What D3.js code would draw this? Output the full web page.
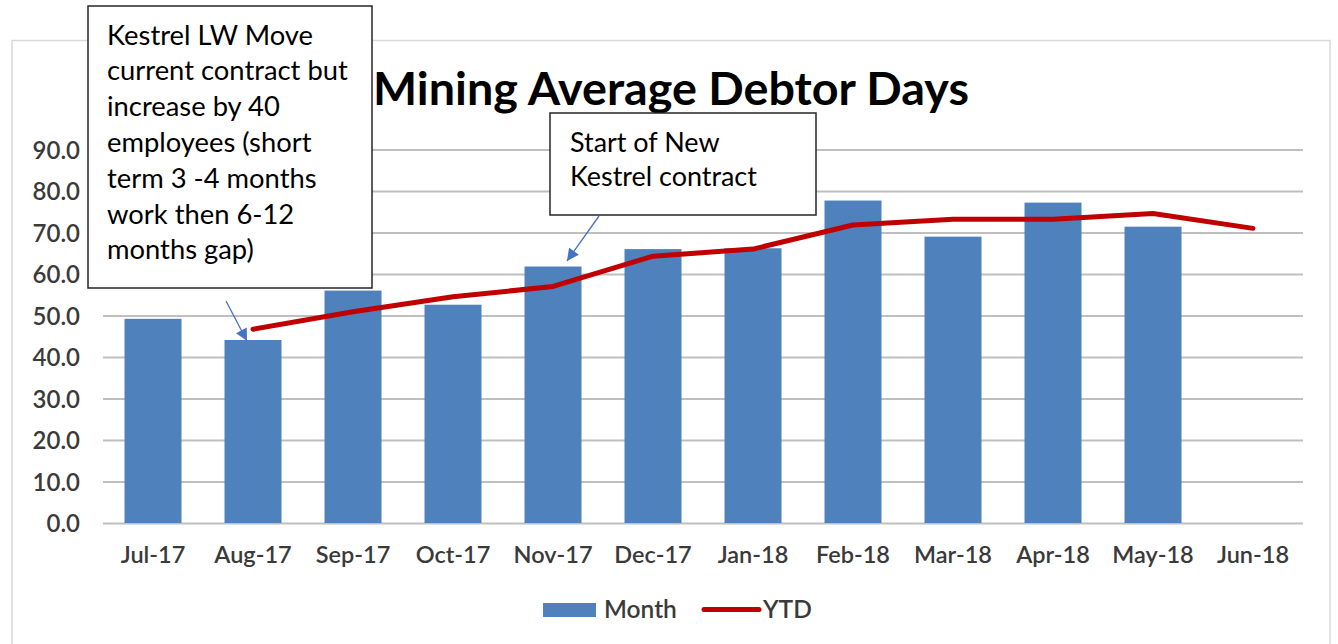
<!DOCTYPE html>
<html><head><meta charset="utf-8">
<script src="https://cdn.jsdelivr.net/npm/d3@7"></script>
<style>body{margin:0;background:#fff;overflow:hidden}</style>
</head><body>
<svg id="c" width="1338" height="644"></svg>
<script>
const categories = ["Jul-17","Aug-17","Sep-17","Oct-17","Nov-17","Dec-17","Jan-18","Feb-18","Mar-18","Apr-18","May-18","Jun-18"];
const monthValues = [49.2, 44.1, 56.0, 52.6, 61.8, 66.0, 66.2, 77.7, 69.0, 77.2, 71.4, null];
const ytdValues = [null, 46.7, 50.9, 54.5, 57.0, 64.3, 66.0, 71.8, 73.2, 73.2, 74.6, 71.0];
const yTicks = [0,10,20,30,40,50,60,70,80,90];
const seriesNames = ["Month","YTD"];
const chartTitle = "Mining Average Debtor Days";
const note1Lines = ["Kestrel LW Move","current contract but","increase by 40","employees (short","term 3 -4 months","work then 6-12","months gap)"];
const note1Target = "Aug-17";
const note2Lines = ["Start of New","Kestrel contract"];
const note2Target = "Nov-17";

const FONT = "Lato, 'Open Sans', sans-serif";
const svg = d3.select("#c");

function fitWidth(sel, w){
  const node = sel.node();
  const fs = parseFloat(sel.attr("font-size"));
  const len = node.getComputedTextLength();
  sel.attr("font-size", fs * w / len);
  return fs * w / len;
}

// chart frame
svg.append("rect").attr("x",12).attr("y",40.5).attr("width",1318).attr("height",640)
  .attr("fill","#fff").attr("stroke","#D9D9D9").attr("stroke-width",1.5);

const x0 = 103, x1 = 1303, yBase = 523, yTop = 523 - 4.15*90;
const x = d3.scaleBand().domain(categories).range([x0,x1]).paddingInner(0.43).paddingOuter(0.215);
const y = d3.scaleLinear().domain([0,90]).range([yBase, yTop]);

// y axis with gridlines
const yAxis = svg.append("g").attr("transform",`translate(${x0},0)`)
  .call(d3.axisLeft(y).tickValues(yTicks).tickFormat(d3.format(".1f")).tickSize(-(x1-x0)).tickPadding(23));
yAxis.select(".domain").remove();
yAxis.selectAll(".tick line").attr("stroke","#BFBFBF").attr("stroke-width",1.8);
yAxis.selectAll(".tick text").attr("font-family",FONT).attr("font-size",24).attr("font-weight",600)
  .attr("fill","#3a3a3a").attr("dy","0.36em");

// bars
svg.append("g").selectAll("rect").data(categories.map((c,i)=>({c,v:monthValues[i]})).filter(d=>d.v!=null))
  .join("rect")
  .attr("x",d=>x(d.c)).attr("width",x.bandwidth())
  .attr("y",d=>y(d.v)).attr("height",d=>yBase-y(d.v))
  .attr("fill","#4F81BD");

// x axis
const xAxis = svg.append("g").attr("transform",`translate(0,${yBase})`)
  .call(d3.axisBottom(x).tickSize(0).tickPadding(23));
xAxis.select(".domain").remove();
xAxis.selectAll(".tick text").attr("font-family",FONT).attr("font-size",23.5).attr("font-weight",600)
  .attr("fill","#3a3a3a");

// YTD line
const line = d3.line().defined(d=>d.v!=null).x(d=>x(d.c)+x.bandwidth()/2).y(d=>y(d.v));
svg.append("path").datum(categories.map((c,i)=>({c,v:ytdValues[i]})))
  .attr("d",line).attr("fill","none").attr("stroke","#C00000").attr("stroke-width",5)
  .attr("stroke-linejoin","round").attr("stroke-linecap","round");

// title
const t = svg.append("text").attr("x",671).attr("y",105).attr("text-anchor","middle")
  .attr("font-family",FONT).attr("font-weight",700).attr("font-size",40).attr("fill","#000")
  .text(chartTitle);
fitWidth(t, 596);

// legend
const lg = svg.append("g");
lg.append("rect").attr("x",543).attr("y",603).attr("width",53).attr("height",14).attr("fill","#4F81BD");
lg.append("text").attr("x",604).attr("y",618).attr("font-family",FONT).attr("font-size",24.5).attr("font-weight",600)
  .attr("fill","#3a3a3a").text(seriesNames[0]);
lg.append("line").attr("x1",704).attr("x2",759).attr("y1",609.5).attr("y2",609.5)
  .attr("stroke","#C00000").attr("stroke-width",5).attr("stroke-linecap","round");
lg.append("text").attr("x",763).attr("y",618).attr("font-family",FONT).attr("font-size",24.5).attr("font-weight",600)
  .attr("fill","#3a3a3a").text(seriesNames[1]);

// arrows
const defs = svg.append("defs");
defs.append("marker").attr("id","ah").attr("viewBox","0 0 10 10").attr("refX",10).attr("refY",5)
  .attr("markerWidth",14).attr("markerHeight",12).attr("markerUnits","userSpaceOnUse").attr("orient","auto")
  .append("path").attr("d","M0,0 L10,5 L0,10 z").attr("fill","#4472C4");

function arrow(x1_,y1_,x2_,y2_){
  svg.append("line").attr("x1",x1_).attr("y1",y1_).attr("x2",x2_).attr("y2",y2_)
    .attr("stroke","#4472C4").attr("stroke-width",1.3).attr("marker-end","url(#ah)");
}

// annotation boxes
function note(lines, bx, by, bw, bh, tx, firstBase, step, longestW){
  const g = svg.append("g");
  g.append("rect").attr("x",bx).attr("y",by).attr("width",bw).attr("height",bh)
    .attr("fill","#fff").attr("stroke","#262626").attr("stroke-width",1.5);
  const texts = g.selectAll("text").data(lines).join("text")
    .attr("x",tx).attr("y",(d,i)=>firstBase+i*step)
    .attr("font-family",FONT).attr("font-size",24).attr("fill","#000").text(d=>d);
  let lw = 0;
  texts.each(function(){ const l=this.getComputedTextLength(); if(l>lw){lw=l;} });
  texts.attr("font-size",24*longestW/lw);
}
arrow(226,301, x(note1Target)+x.bandwidth()/2-6, 341);
arrow(599,216, x(note2Target)+x.bandwidth()/2+14, 261);
note(note1Lines, 88, 6, 284, 282, 107, 44.5, 35.8, 241);
note(note2Lines, 550, 113, 266, 102, 570, 151.5, 34.5, 187);
</script>
</body></html>
